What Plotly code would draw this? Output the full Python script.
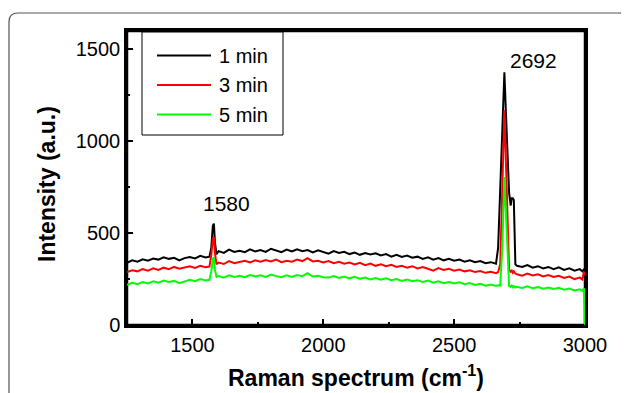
import plotly.graph_objects as go

# Raman shift (cm^-1)
WAVENUMBER = [
    1250, 1270, 1290, 1310, 1330, 1350, 1370, 1390, 1410, 1430, 1450, 1470, 1490, 1510, 1530, 1550,
    1565, 1572, 1578, 1582, 1586, 1592,
    1600, 1620, 1640, 1660, 1680, 1700, 1720, 1740, 1760, 1780, 1800, 1820, 1840, 1860, 1880, 1900,
    1920, 1940, 1960, 1980, 2000, 2020, 2040, 2060, 2080, 2100, 2120, 2140, 2160, 2180, 2200, 2220,
    2240, 2260, 2280, 2300, 2320, 2340, 2360, 2380, 2400, 2420, 2440, 2460, 2480, 2500, 2520, 2540,
    2560, 2580, 2600, 2620, 2640, 2660,
    2668, 2676, 2684, 2692, 2698, 2704, 2710, 2716, 2720, 2724, 2728, 2734,
    2740, 2760, 2780, 2800, 2820, 2840, 2860, 2880, 2900, 2920, 2940, 2960, 2980,
    2990, 2996, 3000,
]

INT_1MIN = [
    338, 352, 345, 358, 350, 362, 356, 368, 360, 366, 352, 364, 370, 362, 376, 368,
    372, 420, 540, 552, 450, 385,
    402, 392, 410, 398, 404, 396, 412, 400, 408, 398, 415, 404, 396, 410, 400, 412,
    402, 408, 395, 406, 398, 388, 402, 392, 398, 386, 394, 382, 392, 384, 390, 378,
    386, 372, 382, 370, 378, 366, 372, 360, 368, 356, 364, 352, 360, 350, 356, 344,
    352, 342, 348, 336, 342, 334,
    420, 720, 1030, 1375, 1150, 930, 720, 650, 690, 690, 680, 330,
    322, 316, 326, 312, 320, 308, 316, 304, 314, 300, 308, 296, 304,
    292, 302, 300,
]

INT_3MIN = [
    288, 298, 292, 304, 296, 308, 300, 312, 304, 316, 306, 312, 320, 310, 322, 314,
    318, 380, 470, 478, 390, 330,
    340, 332, 348, 336, 344, 350, 340, 352, 344, 354, 346, 356, 342, 350, 344, 356,
    348, 364, 346, 350, 340, 348, 336, 344, 334, 340, 330, 338, 326, 334, 322, 330,
    320, 328, 316, 322, 312, 320, 308, 316, 306, 296, 310, 300, 306, 296, 302, 292,
    298, 288, 294, 284, 290, 282,
    288, 330, 740, 1170, 880, 560, 300, 290, 296, 284, 292, 280,
    276, 268, 280, 270, 276, 264, 272, 262, 268, 256, 264, 250, 258,
    248, 290, 270,
]

INT_5MIN = [
    218, 230, 222, 234, 226, 238, 230, 242, 234, 240, 228, 238, 246, 238, 250, 242,
    246, 290, 360, 368, 300, 262,
    266, 258, 270, 262, 268, 260, 272, 264, 270, 262, 274, 266, 260, 270, 262, 272,
    266, 282, 264, 268, 260, 258, 266, 256, 264, 254, 262, 252, 258, 248, 256, 246,
    254, 244, 250, 240, 248, 238, 244, 234, 242, 230, 238, 228, 234, 226, 232, 222,
    228, 218, 224, 214, 220, 212,
    216, 214, 420, 805, 620, 400, 212, 208, 214, 206, 212, 204,
    208, 202, 210, 200, 206, 198, 204, 196, 202, 192, 198, 188, 194,
    186, 200, 0,
]

SERIES_NAMES = ["1 min", "3 min", "5 min"]
SERIES_COLORS = ["#000000", "#ff0000", "#00ff00"]
PEAK_LABELS = ["1580", "2692"]
PEAK_LABEL_X = [1631, 2805]
PEAK_LABEL_Y = [661, 1442]

X_RANGE = [1250, 3000]
Y_RANGE = [0, 1600]

for s in (INT_1MIN, INT_3MIN, INT_5MIN):
    assert len(s) == len(WAVENUMBER), (len(s), len(WAVENUMBER))

FONT = "Liberation Sans, Arial, sans-serif"

fig = go.Figure()
for name, ys, col in zip(SERIES_NAMES, [INT_1MIN, INT_3MIN, INT_5MIN], SERIES_COLORS):
    fig.add_trace(go.Scatter(x=WAVENUMBER, y=ys, mode="lines", name=name,
                             line=dict(color=col, width=2), showlegend=False))

# page geometry (the page body adds an 8px margin around the figure)
OFF = 8
W, H = 629, 393
L, R, T, B = 127, 585, 31, 325     # plot area in page pixels
pw, ph = R - L, B - T


def px(x):
    return (x - L) / pw


def py(y):
    return (B - y) / ph


shapes = []
# plot frame (drawn under the traces so the 5 min line shows on the right edge)
shapes.append(dict(type="rect", xref="paper", yref="paper", x0=0, x1=1, y0=0, y1=1,
                   line=dict(color="black", width=2.5), fillcolor="rgba(0,0,0,0)",
                   layer="below"))
# outer rounded frame
x0, x1, y0, r = 9, 627.5, 13, 9
yb = 400
path = (f"M {px(x0)},{py(yb)} L {px(x0)},{py(y0 + r)} "
        f"Q {px(x0)},{py(y0)} {px(x0 + r)},{py(y0)} "
        f"L {px(x1 - r)},{py(y0)} Q {px(x1)},{py(y0)} {px(x1)},{py(y0 + r)} "
        f"L {px(x1)},{py(yb)}")
shapes.append(dict(type="path", xref="paper", yref="paper", path=path,
                   line=dict(color="#555555", width=1.2)))

# legend box
shapes.append(dict(type="rect", xref="paper", yref="paper",
                   x0=px(142), x1=px(283), y0=py(135), y1=py(32),
                   line=dict(color="#000000", width=1), fillcolor="white", layer="above"))
annotations = []
for i, (name, col) in enumerate(zip(SERIES_NAMES, SERIES_COLORS)):
    yy = 55.5 + 29.5 * i
    shapes.append(dict(type="line", xref="paper", yref="paper",
                       x0=px(157), x1=px(211), y0=py(yy), y1=py(yy),
                       line=dict(color=col, width=2), layer="above"))
    annotations.append(dict(xref="paper", yref="paper", x=px(217), y=py(yy),
                            text=name, showarrow=False, xanchor="left", yanchor="middle",
                            font=dict(family=FONT, size=20, color="black")))

for t, xv, yv in zip(PEAK_LABELS, PEAK_LABEL_X, PEAK_LABEL_Y):
    annotations.append(dict(x=xv, y=yv, xref="x", yref="y", text=t, showarrow=False,
                            xanchor="center", yanchor="middle",
                            font=dict(family=FONT, size=21, color="black")))

# axis titles as paper annotations for exact placement
annotations.append(dict(xref="paper", yref="paper", x=px(356), y=py(376),
                        text="<b>Raman spectrum (cm<sup>-1</sup>)</b>", showarrow=False,
                        xanchor="center", yanchor="middle",
                        font=dict(family=FONT, size=23, color="black")))
annotations.append(dict(xref="paper", yref="paper", x=px(47), y=py(184),
                        text="<b>Intensity (a.u.)</b>", showarrow=False, textangle=-90,
                        xanchor="center", yanchor="middle",
                        font=dict(family=FONT, size=23, color="black")))

fig.update_layout(
    width=W - OFF, height=H - OFF,
    margin=dict(l=L - OFF, r=W - R, t=T - OFF, b=H - B, pad=0, autoexpand=False),
    paper_bgcolor="white", plot_bgcolor="white",
    font=dict(family=FONT, color="black"),
    shapes=shapes, annotations=annotations,
    showlegend=False,
)
fig.update_xaxes(
    range=X_RANGE, tickmode="linear", tick0=0, dtick=500,
    ticks="inside", ticklen=6, tickwidth=2, tickcolor="black",
    minor=dict(ticks="inside", dtick=250, tick0=0, ticklen=3, tickwidth=2, tickcolor="black"),
    showline=True, linecolor="black", linewidth=2.5, mirror=True,
    showgrid=False, zeroline=False, automargin=False,
    tickfont=dict(family=FONT, size=20, color="black"),
)
fig.update_yaxes(
    range=Y_RANGE, tickmode="linear", tick0=0, dtick=500,
    ticks="inside", ticklen=6, tickwidth=2, tickcolor="black",
    minor=dict(ticks="inside", dtick=250, tick0=0, ticklen=3, tickwidth=2, tickcolor="black"),
    showline=True, linecolor="black", linewidth=2.5, mirror=True,
    showgrid=False, zeroline=False, automargin=False,
    tickfont=dict(family=FONT, size=20, color="black"),
)

fig.write_html("out.html")
